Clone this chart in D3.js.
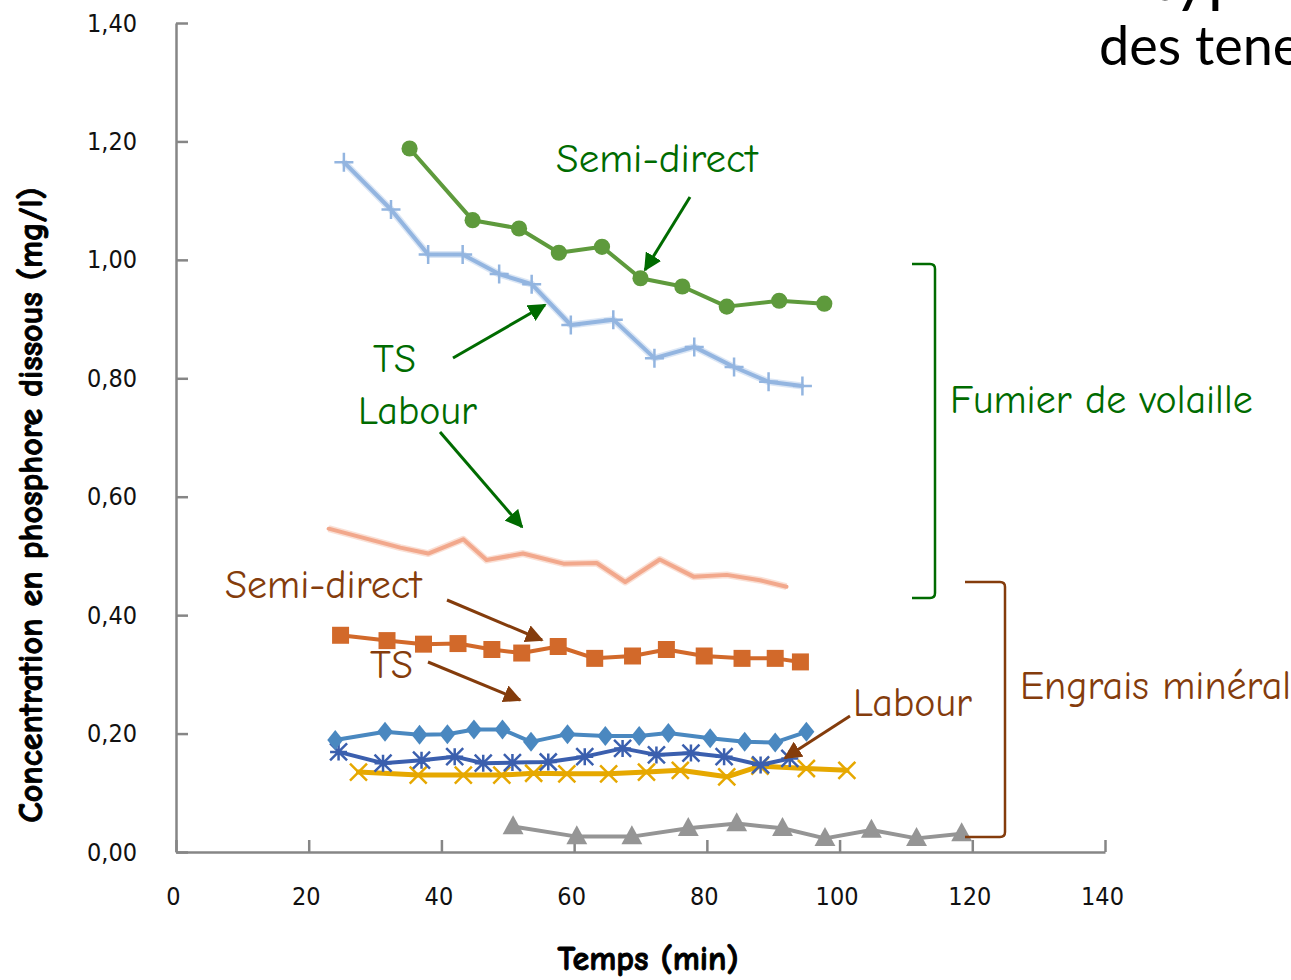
<!DOCTYPE html>
<html>
<head>
<meta charset="utf-8">
<script src="https://cdn.jsdelivr.net/npm/d3@7"></script>
<style>
  body { margin: 0; background: #fff; }
  svg { display: block; }
</style>
</head>
<body>
<script>
// ---- data (time in min, concentration in mg/l) ----
var xTicks = [0, 20, 40, 60, 80, 100, 120, 140];
var yTicks = [0, 0.2, 0.4, 0.6, 0.8, 1.0, 1.2, 1.4];

// Fumier de volaille
var tFumSd = [35.2, 44.7, 51.7, 57.7, 64.2, 70.0, 76.3, 83.0, 90.9, 97.7];
var cFumSd = [1.188, 1.067, 1.053, 1.012, 1.022, 0.969, 0.955, 0.921, 0.931, 0.926];
var tFumTs = [25.3, 32.4, 38.0, 43.2, 48.7, 53.6, 59.5, 65.9, 72.1, 78.1, 84.1, 89.3, 94.4];
var cFumTs = [1.165, 1.085, 1.009, 1.009, 0.976, 0.959, 0.890, 0.899, 0.834, 0.853, 0.819, 0.794, 0.787];
var tFumLab = [23.0, 33.8, 38.0, 43.3, 46.8, 52.3, 58.4, 63.4, 67.7, 72.9, 78.0, 83.0, 88.0, 92.0];
var cFumLab = [0.546, 0.514, 0.504, 0.528, 0.493, 0.504, 0.487, 0.488, 0.456, 0.494, 0.465, 0.468, 0.459, 0.448];

// Engrais minéral
var tMinSd = [24.8, 31.8, 37.3, 42.5, 47.6, 52.1, 57.6, 63.1, 68.8, 73.9, 79.6, 85.3, 90.3, 94.1];
var cMinSd = [0.366, 0.357, 0.351, 0.352, 0.342, 0.336, 0.347, 0.327, 0.331, 0.342, 0.331, 0.327, 0.327, 0.321];
var tMinTs = [24.0, 31.5, 36.7, 40.9, 44.9, 49.2, 53.5, 59.0, 64.7, 69.8, 74.2, 80.5, 85.7, 90.3, 95.0];
var cMinTs = [0.189, 0.203, 0.198, 0.199, 0.207, 0.207, 0.186, 0.199, 0.196, 0.196, 0.201, 0.192, 0.186, 0.185, 0.203];
var tMinLab = [24.5, 31.2, 37.0, 42.0, 46.3, 50.7, 56.1, 61.6, 67.3, 72.4, 77.6, 82.6, 88.1, 92.5];
var cMinLab = [0.169, 0.150, 0.155, 0.161, 0.150, 0.151, 0.152, 0.161, 0.175, 0.164, 0.167, 0.161, 0.147, 0.158];
var tYellow = [27.5, 36.5, 43.3, 49.1, 53.9, 58.9, 65.2, 70.9, 76.0, 83.0, 88.0, 95.0, 101.1];
var cYellow = [0.135, 0.130, 0.130, 0.130, 0.133, 0.132, 0.132, 0.135, 0.138, 0.127, 0.145, 0.141, 0.138];
var tGrey = [50.8, 60.4, 68.7, 77.2, 84.5, 91.4, 97.8, 104.8, 111.6, 118.4];
var cGrey = [0.043, 0.026, 0.026, 0.040, 0.048, 0.040, 0.023, 0.037, 0.023, 0.031];

var comic = "'Comic Sans MS', 'Comic Neue', 'DejaVu Sans', sans-serif";
var green = "#006b00";
var brown = "#843c0c";

function main(){
    var svg = d3.select("body").append("svg")
        .attr("width", 1291)
        .attr("height", 980);

    var xScale = d3.scaleLinear().domain([0, 140]).range([176, 1105]);
    var yScale = d3.scaleLinear().domain([0, 1.4]).range([852, 23]);

    // arrow heads
    var defs = svg.append("defs");
    [["arrG", green], ["arrB", brown]].forEach(function(a){
        defs.append("marker")
            .attr("id", a[0])
            .attr("viewBox", "0 0 10 10")
            .attr("refX", 9).attr("refY", 5)
            .attr("markerWidth", 6).attr("markerHeight", 6)
            .attr("markerUnits", "strokeWidth")
            .attr("orient", "auto")
            .append("path")
            .attr("d", "M0,0 L10,5 L0,10 z")
            .attr("fill", a[1]);
    });

    // title fragment (cut by the top and right edges, as in the slide)
    svg.append("text")
        .attr("x", 1150).attr("y", 0)
        .attr("font-family", "Lato, 'Open Sans', sans-serif")
        .attr("font-size", "66px")
        .attr("fill", "#000")
        .text("type");
    svg.append("text")
        .attr("x", 1099).attr("y", 65)
        .attr("font-family", "Lato, 'Open Sans', sans-serif")
        .attr("font-size", "54px")
        .attr("fill", "#000")
        .text("des teneurs");

    // axes
    var fmtY = function(d){ return d3.format(".2f")(d).replace(".", ","); };
    var yAxis = svg.append("g")
        .attr("transform", "translate(176,0)")
        .call(d3.axisLeft(yScale).tickValues(yTicks).tickFormat(fmtY)
            .tickSizeInner(-12).tickSizeOuter(0).tickPadding(39));
    var xAxis = svg.append("g")
        .attr("transform", "translate(0,852)")
        .call(d3.axisBottom(xScale).tickValues(xTicks)
            .tickSizeInner(-12).tickSizeOuter(0).tickPadding(35));
    [xAxis, yAxis].forEach(function(ax){
        ax.select(".domain").attr("stroke", "#868686").attr("stroke-width", 2.5);
        ax.selectAll(".tick line").attr("stroke", "#868686").attr("stroke-width", 2.5);
        ax.selectAll(".tick text")
            .attr("font-family", "'DejaVu Sans Condensed', 'DejaVu Sans', sans-serif")
            .attr("font-size", "25px")
            .attr("fill", "#111");
    });
    xAxis.selectAll(".tick text").attr("dx", "-3");

    svg.append("text")
        .attr("transform", "translate(42,505) rotate(-90)")
        .attr("text-anchor", "middle")
        .attr("font-family", comic)
        .attr("font-weight", "bold")
        .attr("font-size", "34px")
        .attr("stroke", "#000").attr("stroke-width", 0.9)
        .text("Concentration en phosphore dissous (mg/l)");
    svg.append("text")
        .attr("x", 648).attr("y", 970)
        .attr("text-anchor", "middle")
        .attr("font-family", comic)
        .attr("font-weight", "bold")
        .attr("font-size", "34px")
        .attr("stroke", "#000").attr("stroke-width", 0.9)
        .text("Temps (min)");

    var line = d3.line()
        .x(function(d){ return xScale(d[0]); })
        .y(function(d){ return yScale(d[1]); });

    function series(ts, cs, color, width, marker, size, halo){
        var pts = d3.zip(ts, cs);
        var g = svg.append("g");
        if (halo) {
            g.append("path").datum(pts)
                .attr("d", line).attr("fill", "none")
                .attr("stroke", halo).attr("stroke-width", width + 3)
                .attr("stroke-linejoin", "round").attr("opacity", 0.6);
        }
        g.append("path").datum(pts)
            .attr("d", line).attr("fill", "none")
            .attr("stroke", color).attr("stroke-width", width)
            .attr("stroke-linejoin", "round").attr("stroke-linecap", "round");
        if (!marker) return;
        var m = g.selectAll(".m").data(pts).enter().append("path")
            .attr("transform", function(d){
                return "translate(" + xScale(d[0]) + "," + yScale(d[1]) + ")";
            });
        var s = size;
        if (marker == "circle") {
            m.attr("d", d3.symbol(d3.symbolCircle, s * s * 0.8)).attr("fill", color);
        } else if (marker == "square") {
            m.attr("d", "M" + (-s/2) + "," + (-s/2) + "h" + s + "v" + s + "h" + (-s) + "z").attr("fill", color);
        } else if (marker == "diamond") {
            m.attr("d", "M0," + (-s/2) + "L" + (s*0.4) + ",0L0," + (s/2) + "L" + (-s*0.4) + ",0z").attr("fill", color);
        } else if (marker == "triangle") {
            m.attr("d", "M0," + (-s*0.6) + "L" + (s*0.55) + "," + (s*0.4) + "L" + (-s*0.55) + "," + (s*0.4) + "z").attr("fill", color);
        } else if (marker == "plus") {
            m.attr("d", "M" + (-s/2) + ",0H" + (s/2) + "M0," + (-s/2) + "V" + (s/2))
                .attr("stroke", color).attr("stroke-width", 2.5).attr("fill", "none");
        } else if (marker == "x") {
            m.attr("d", "M" + (-s/2) + "," + (-s/2) + "L" + (s/2) + "," + (s/2) + "M" + (s/2) + "," + (-s/2) + "L" + (-s/2) + "," + (s/2))
                .attr("stroke", color).attr("stroke-width", 2.5).attr("fill", "none");
        } else if (marker == "star") {
            var h = s / 2;
            m.attr("d", "M" + (-h) + "," + (-h) + "L" + h + "," + h + "M" + h + "," + (-h) + "L" + (-h) + "," + h + "M0," + (-h) + "V" + h + "M" + (-h) + ",0H" + h)
                .attr("stroke", color).attr("stroke-width", 2.5).attr("fill", "none");
        }
    }

    series(tGrey, cGrey, "#959595", 4, "triangle", 19);
    series(tYellow, cYellow, "#e6a800", 5, "x", 17);
    series(tMinLab, cMinLab, "#3b5fae", 4, "star", 17);
    series(tMinTs, cMinTs, "#4a88c0", 4, "diamond", 20);
    series(tMinSd, cMinSd, "#d2692a", 4, "square", 17);
    series(tFumLab, cFumLab, "#f2a88c", 4, null, 0, "#f7c9b8");
    series(tFumTs, cFumTs, "#93b5e0", 4, "plus", 19, "#c3d6ef");
    series(tFumSd, cFumSd, "#5e9a3c", 4, "circle", 16);

    // annotations
    function label(txt, x, y, color, size){
        svg.append("text")
            .attr("x", x).attr("y", y)
            .attr("font-family", comic)
            .attr("font-size", (size || 40) + "px")
            .attr("fill", color)
            .text(txt);
    }
    function arrow(x1, y1, x2, y2, id, color){
        svg.append("line")
            .attr("x1", x1).attr("y1", y1).attr("x2", x2).attr("y2", y2)
            .attr("stroke", color).attr("stroke-width", 3)
            .attr("marker-end", "url(#" + id + ")");
    }

    label("Semi-direct", 556, 172, green, 41);
    arrow(690, 197, 645, 270, "arrG", green);
    label("TS", 373, 372, green);
    arrow(453, 358, 545, 305, "arrG", green);
    label("Labour", 358, 424, green);
    arrow(440, 432, 522, 527, "arrG", green);
    label("Fumier de volaille", 950, 413, green);

    label("Semi-direct", 225, 598, brown);
    arrow(447, 600, 542, 640, "arrB", brown);
    label("TS", 370, 678, brown);
    arrow(428, 662, 520, 700, "arrB", brown);
    label("Labour", 853, 716, brown);
    arrow(850, 716, 785, 758, "arrB", brown);
    label("Engrais minéral", 1020, 699, brown);

    // brackets
    svg.append("path")
        .attr("d", "M912,264 H930 Q935,264 935,269 V593 Q935,598 930,598 H912")
        .attr("fill", "none").attr("stroke", green).attr("stroke-width", 2.5);
    svg.append("path")
        .attr("d", "M965,582 H1000 Q1005,582 1005,587 V832 Q1005,837 1000,837 H965")
        .attr("fill", "none").attr("stroke", brown).attr("stroke-width", 2.5);
}
main();
</script>
</body>
</html>
